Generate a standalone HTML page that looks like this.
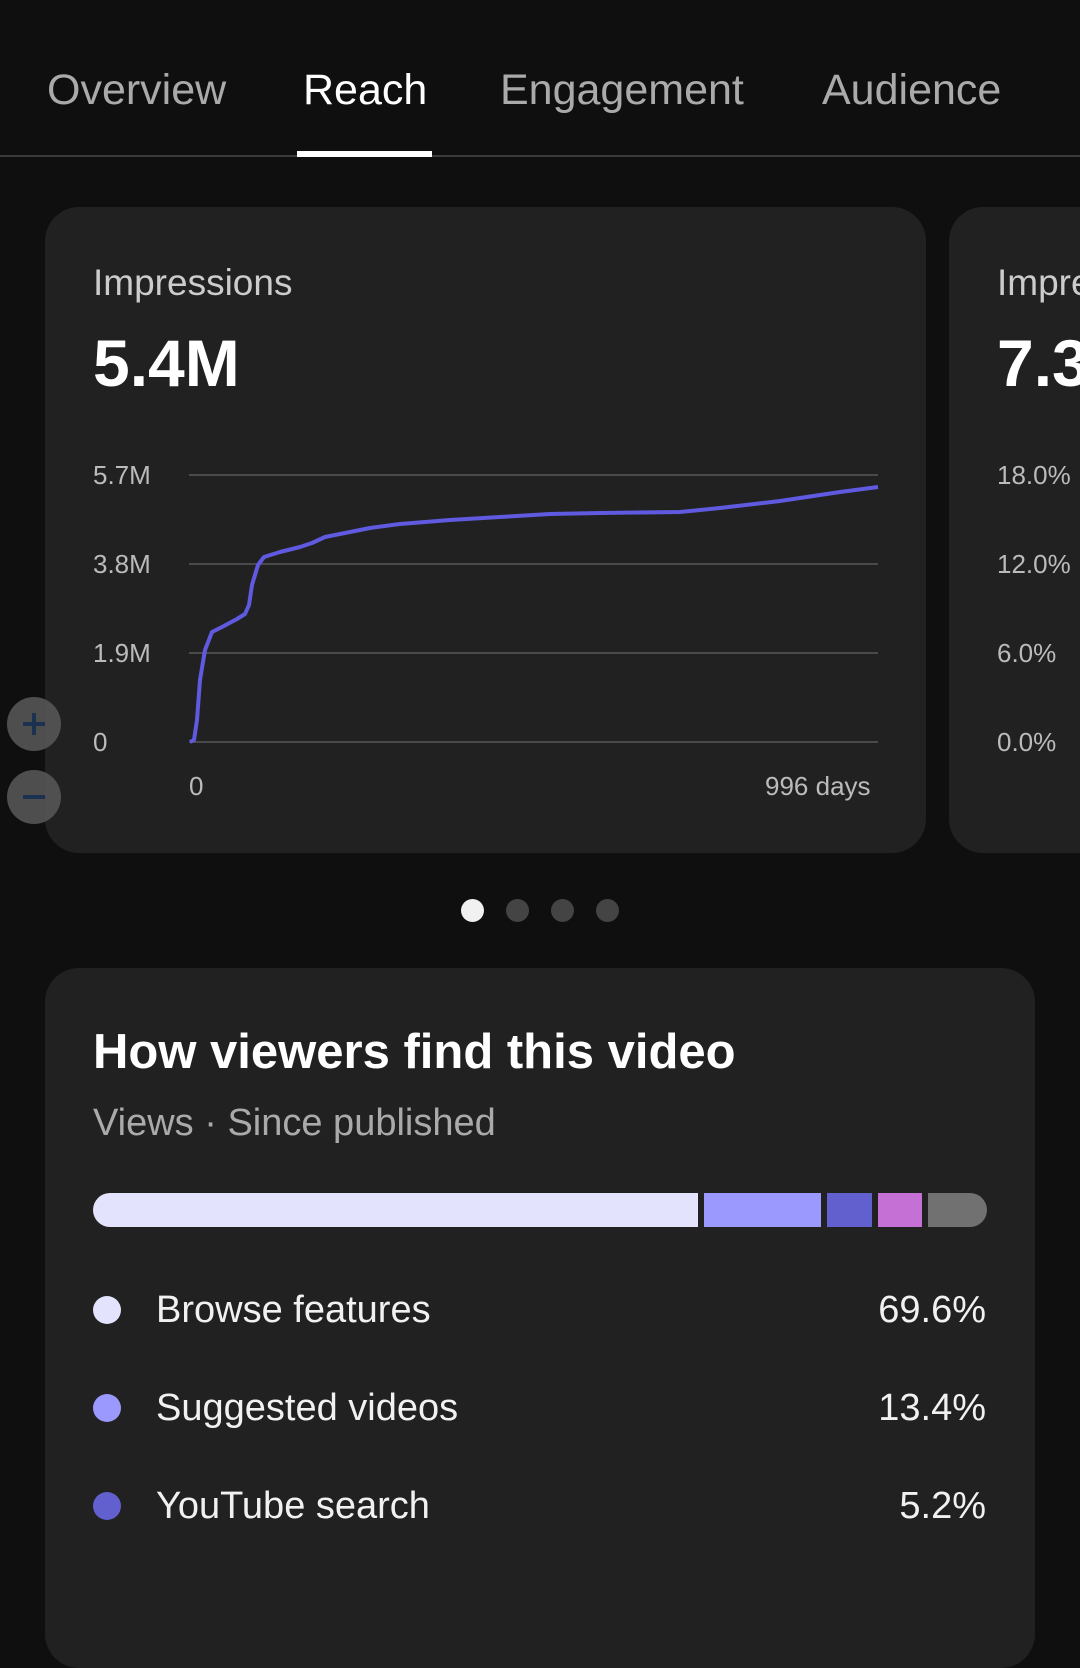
<!DOCTYPE html>
<html><head><style>
body{margin:0;width:1080px;height:1561px;background:#0f0f0f;overflow:hidden;font-family:"Liberation Sans",sans-serif;position:relative;color:#fff}
.a{position:absolute;white-space:nowrap}
.tab{font-size:43px;color:#aaa;top:66px}
.card{position:absolute;background:#212121;border-radius:34px}
.yl{font-size:26px;color:#bbb}
.leg{font-size:38px;color:#f1f1f1}
.dot{position:absolute;width:28px;height:28px;border-radius:50%}
</style></head><body>
<div class="a tab" style="left:47px">Overview</div>
<div class="a tab" style="left:303px;color:#fff">Reach</div>
<div class="a tab" style="left:500px">Engagement</div>
<div class="a tab" style="left:822px">Audience</div>
<div class="a" style="left:0;top:155px;width:1080px;height:2px;background:#3a3a3a"></div>
<div class="a" style="left:297px;top:151px;width:135px;height:6px;background:#fff"></div>

<div class="card" style="left:45px;top:207px;width:881px;height:646px"></div>
<div class="card" style="left:949px;top:207px;width:200px;height:646px"></div>
<div class="a" style="left:93px;top:262px;font-size:37px;color:#ccc">Impressions</div>
<div class="a" style="left:93px;top:325px;font-size:66px;font-weight:bold">5.4M</div>
<div class="a" style="left:997px;top:262px;font-size:37px;color:#ccc">Impre</div>
<div class="a" style="left:997px;top:325px;font-size:66px;font-weight:bold">7.3</div>

<div class="a yl" style="left:93px;top:460px">5.7M</div>
<div class="a yl" style="left:93px;top:549px">3.8M</div>
<div class="a yl" style="left:93px;top:638px">1.9M</div>
<div class="a yl" style="left:93px;top:727px">0</div>
<div class="a yl" style="left:189px;top:771px">0</div>
<div class="a yl" style="left:765px;top:771px">996 days</div>
<div class="a yl" style="left:997px;top:460px">18.0%</div>
<div class="a yl" style="left:997px;top:549px">12.0%</div>
<div class="a yl" style="left:997px;top:638px">6.0%</div>
<div class="a yl" style="left:997px;top:727px">0.0%</div>

<svg class="a" style="left:0;top:0" width="1080" height="860">
<g stroke="#4a4a4a" stroke-width="2">
<line x1="189" y1="475" x2="878" y2="475"/><line x1="189" y1="564" x2="878" y2="564"/>
<line x1="189" y1="653" x2="878" y2="653"/><line x1="189" y1="742" x2="878" y2="742"/></g>
<polyline fill="none" stroke="#5f5ae0" stroke-width="4" stroke-linejoin="round" points="190,742 194,740 197,720 200,680 205,650 212,632 222,627 237,619 245,614 249,605 252,585 258,565 264,557 280,552 300,547 312,543 325,537 340,534 370,528 400,524 450,520 500,517 550,514 600,513 680,512 720,508 780,501 840,492 878,487"/>
<circle cx="34" cy="724" r="27" fill="#555" opacity="0.9"/>
<circle cx="34" cy="797" r="27" fill="#555" opacity="0.9"/>
<g stroke="#1c3050" stroke-width="4"><line x1="23" y1="724" x2="45" y2="724"/><line x1="34" y1="713" x2="34" y2="735"/><line x1="23" y1="797" x2="45" y2="797"/></g>
</svg>

<div class="dot" style="left:461px;top:899px;width:23px;height:23px;background:#f1f1f1"></div>
<div class="dot" style="left:506px;top:899px;width:23px;height:23px;background:#444"></div>
<div class="dot" style="left:551px;top:899px;width:23px;height:23px;background:#444"></div>
<div class="dot" style="left:596px;top:899px;width:23px;height:23px;background:#444"></div>

<div class="card" style="left:45px;top:968px;width:990px;height:700px"></div>
<div class="a" style="left:93px;top:1024px;font-size:49px;font-weight:bold">How viewers find this video</div>
<div class="a" style="left:93px;top:1102px;font-size:38px;color:#aaa">Views · Since published</div>
<div class="a" style="left:93px;top:1193px;width:605px;height:34px;background:#e3e3fd;border-radius:17px 0 0 17px"></div>
<div class="a" style="left:704px;top:1193px;width:117px;height:34px;background:#9b99fd"></div>
<div class="a" style="left:827px;top:1193px;width:45px;height:34px;background:#6260cf"></div>
<div class="a" style="left:878px;top:1193px;width:44px;height:34px;background:#c470d4"></div>
<div class="a" style="left:928px;top:1193px;width:59px;height:34px;background:#717171;border-radius:0 17px 17px 0"></div>

<div class="dot" style="left:93px;top:1296px;background:#e3e3fd"></div>
<div class="a leg" style="left:156px;top:1289px">Browse features</div>
<div class="a leg" style="right:94px;top:1289px">69.6%</div>
<div class="dot" style="left:93px;top:1394px;background:#9b99fd"></div>
<div class="a leg" style="left:156px;top:1387px">Suggested videos</div>
<div class="a leg" style="right:94px;top:1387px">13.4%</div>
<div class="dot" style="left:93px;top:1492px;background:#6260cf"></div>
<div class="a leg" style="left:156px;top:1485px">YouTube search</div>
<div class="a leg" style="right:94px;top:1485px">5.2%</div>
</body></html>
